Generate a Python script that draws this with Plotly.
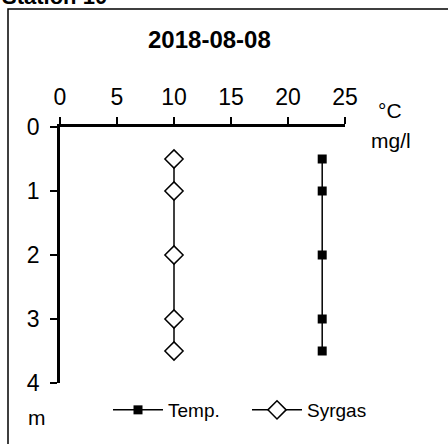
import plotly.graph_objects as go

# depth profile, station 10, 2018-08-08
depth = [0.5, 1, 2, 3, 3.5]
temp = [23, 23, 23, 23, 23]
syrgas = [10, 10, 10, 10, 10]

x_ticks = [0, 5, 10, 15, 20, 25]
y_ticks = [0, 1, 2, 3, 4]

# plot area in window pixels: x 0..25 -> 60..345, depth 0..4 -> 127..383
L, R, T, B = 60, 345, 127, 383


def px(x):
    return (x - L) / (R - L)


def py(y):
    return (B - y) / (B - T)


fam = "Arial, 'Liberation Sans', sans-serif"
tickfont = dict(family=fam, size=23, color="black")
legfont = dict(family=fam, size=19, color="black")

fig = go.Figure()
fig.add_trace(go.Scatter(x=temp, y=depth, name="Temp.", mode="lines+markers",
                         line=dict(color="black", width=1.5),
                         marker=dict(symbol="square", size=9, color="black"),
                         legend="legend"))
fig.add_trace(go.Scatter(x=syrgas, y=depth, name="Syrgas", mode="lines+markers",
                         line=dict(color="black", width=1.5),
                         marker=dict(symbol="diamond", size=14, color="white",
                                     line=dict(color="black", width=1.5)),
                         legend="legend2"))

axis_common = dict(showline=True, linecolor="black", linewidth=2.5, ticks="outside",
                   ticklen=7, tickwidth=1.5, tickcolor="black", showgrid=False,
                   zeroline=False, tickfont=tickfont)
fig.update_xaxes(side="top", range=[0, 25], tickvals=x_ticks, ticklabelstandoff=3, **axis_common)
fig.update_yaxes(range=[4, 0], tickvals=y_ticks, ticklabelstandoff=6, **axis_common)

fig.update_layout(
    width=448, height=444,
    margin=dict(l=L, r=448 - R, t=T, b=444 - B, autoexpand=False),
    paper_bgcolor="white", plot_bgcolor="white",
    font=dict(family=fam, size=19, color="black"),
    showlegend=True,
    legend=dict(orientation="h", x=px(108), y=py(410), xanchor="left", yanchor="middle",
                font=legfont, bgcolor="rgba(0,0,0,0)", itemwidth=50),
    legend2=dict(orientation="h", x=px(247), y=py(410), xanchor="left", yanchor="middle",
                 font=legfont, bgcolor="rgba(0,0,0,0)", itemwidth=50),
    annotations=[
        dict(text="<b>2018-08-08</b>", x=px(209), y=py(39), font=dict(size=24)),
        dict(text="°C", x=px(390), y=py(110), font=dict(size=21)),
        dict(text="mg/l", x=px(391), y=py(140), font=dict(size=21)),
        dict(text="m", x=px(37), y=py(417), font=dict(size=21)),
        dict(text="<b>Station 10</b>", x=px(0), y=py(11), xanchor="left", yanchor="bottom",
             font=dict(size=22)),
    ],
    shapes=[
        dict(type="rect", xref="paper", yref="paper",
             x0=px(8), x1=px(470), y0=py(470), y1=py(9),
             line=dict(color="black", width=1.5)),
    ],
)
fig.update_annotations(xref="paper", yref="paper", showarrow=False,
                       xanchor="center", yanchor="middle", selector=lambda a: a.text != "<b>Station 10</b>")
fig.update_annotations(xref="paper", yref="paper", showarrow=False)

fig.write_html("out.html", config={"displayModeBar": False},
               post_script="document.body.style.margin='0';")
